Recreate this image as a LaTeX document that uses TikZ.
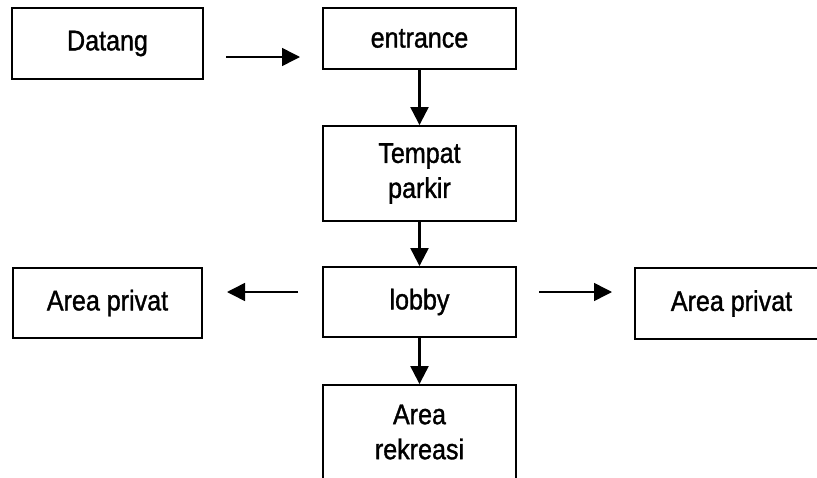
\documentclass[tikz,border=0pt]{standalone}
\usepackage{fontspec}
\setmainfont{Liberation Sans}[FakeStretch=0.88, FakeBold=1.2]
\usetikzlibrary{arrows.meta}
\begin{document}
\begin{tikzpicture}[x=1pt,y=-1pt,
  box/.style={draw, line width=1.9pt, rectangle, inner sep=0pt, align=center,
    font=\fontsize{28.5}{35}\selectfont},
  flow/.style={line width=2.3pt, -{Triangle[length=18pt,width=18pt]}},
  sideflow/.style={line width=1.5pt, -{Triangle[length=18pt,width=18pt]}}]
\useasboundingbox (0,0) rectangle (817,477);

% boxes
\node[box, minimum width=191pt, minimum height=71pt] (datang)   at (107.5,43.5) {Datang};
\node[box, minimum width=193pt, minimum height=61pt] (entrance) at (419.5,38.5) {entrance};
\node[box, minimum width=193pt, minimum height=95pt] (parkir)   at (419.5,173.5) {Tempat\\parkir};
\node[box, minimum width=193pt, minimum height=70pt] (lobby)    at (419.5,302) {lobby};
\node[box, minimum width=189pt, minimum height=70pt] (privL)    at (107.5,303) {Area privat};
\node[box, minimum width=193pt, minimum height=71pt] (privR)    at (731.5,303.5) {Area privat};
\node[box, minimum width=193pt, minimum height=94pt] (rekreasi) at (419.5,432) {Area\\rekreasi};

% free-standing horizontal arrows
\coordinate (a1s) at (226,57);
\coordinate (a1e) at (300,57);
\coordinate (a2s) at (298,292);
\coordinate (a2e) at (227,292);
\coordinate (a3s) at (539,292);
\coordinate (a3e) at (612,292);
\draw[sideflow] (a1s) -- (a1e);
\draw[sideflow] (a2s) -- (a2e);
\draw[sideflow] (a3s) -- (a3e);

% vertical connectors
\draw[flow] (entrance.south) -- (parkir.north);
\draw[flow] (parkir.south) -- (lobby.north);
\draw[flow] (lobby.south) -- (rekreasi.north);
\end{tikzpicture}
\end{document}
